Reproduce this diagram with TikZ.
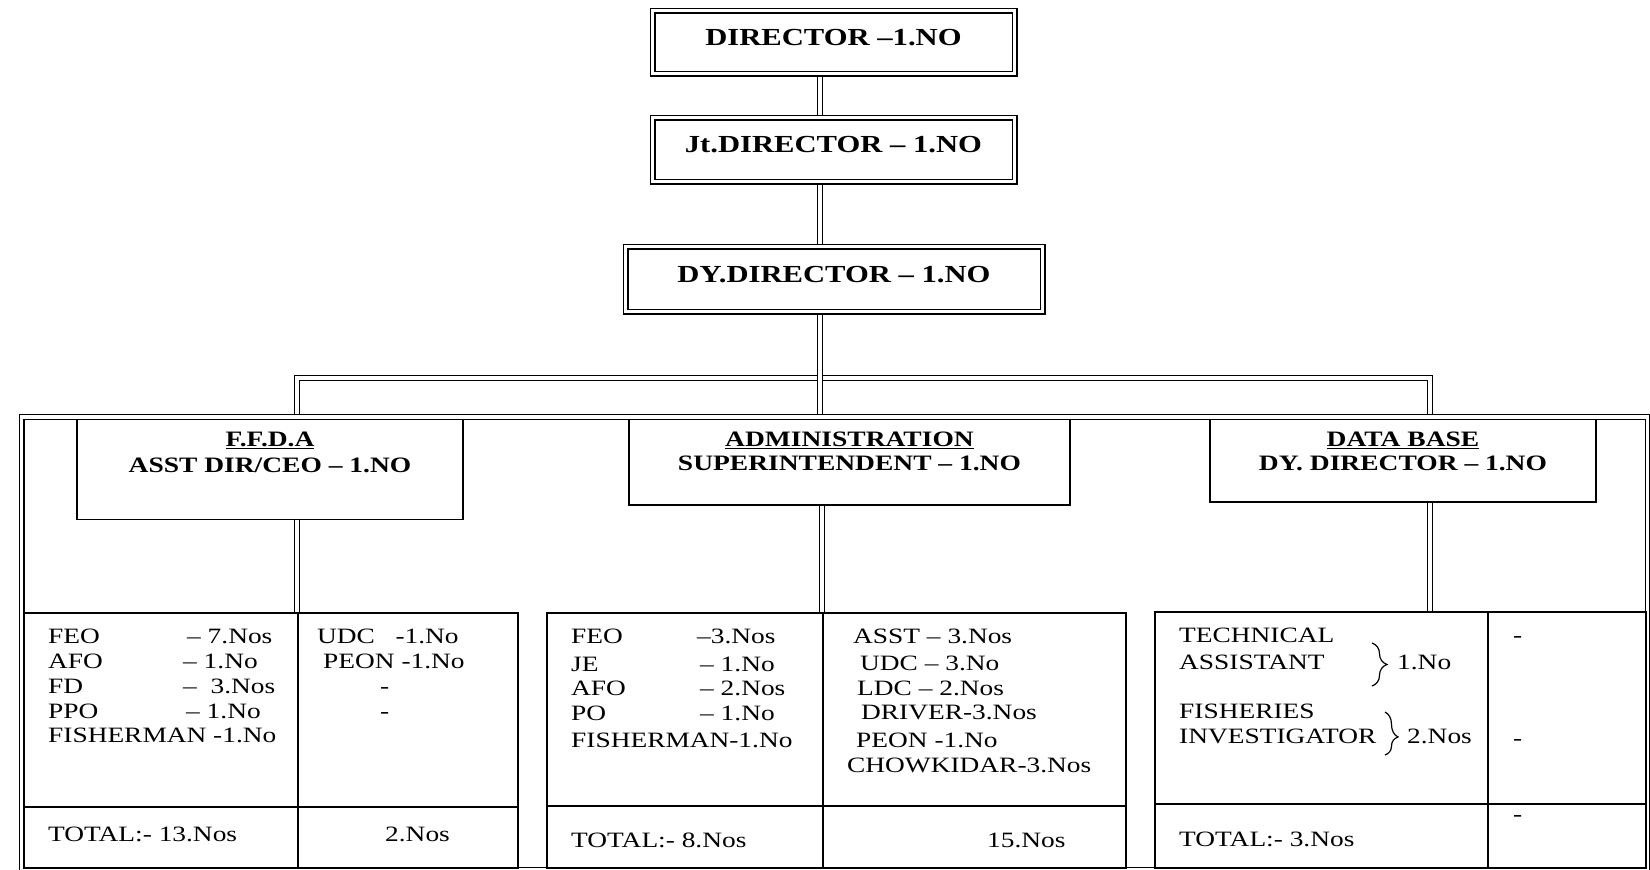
\documentclass[tikz,border=0pt]{standalone}
\usepackage{fontspec}
\setmainfont{Liberation Serif}[FakeStretch=1.25]
\usetikzlibrary{decorations.pathreplacing}
\pgfdeclarelayer{bg}
\pgfsetlayers{bg,main}

\begin{document}
\begin{tikzpicture}[x=1pt,y=-1pt,
  link/.style={draw=black, line width=1.1pt, double=white, double distance=3.2pt},
  framestyle/.style={draw=black, line width=1.2pt, double=white, double distance=3.6pt},
  topbox/.style={draw=black, line width=1.2pt, double=white, double distance=3.6pt,
    fill=white, rectangle, inner sep=0pt,
    font=\fontsize{24.5}{29}\selectfont\bfseries, text height=16pt, text depth=10pt},
  unitbox/.style={draw=black, line width=1.3pt, fill=white, rectangle, inner sep=0pt},
  unithead/.style={align=center, inner sep=0pt, anchor=north,
    font=\fontsize{22}{25.5}\selectfont\bfseries},
  unitheadtight/.style={unithead, font=\fontsize{22}{23.5}\selectfont\bfseries},
  cell/.style={inner sep=0pt, anchor=base west, font=\fontsize{21.9}{24}\selectfont},
  grid/.style={draw=black, line width=1.2pt},
  bracket/.style={draw=black, line width=1.2pt, decorate,
    decoration={brace, amplitude=15pt}},
]
\useasboundingbox (0,0) rectangle (1650,870);
\clip (0,0) rectangle (1650,870);

% ---------- top of the hierarchy ----------
\node[topbox, minimum width=362pt, minimum height=63pt] (dir) at (833.5,42) {DIRECTOR –1.NO};
\node[topbox, minimum width=362pt, minimum height=64pt] (jt) at (833.5,149.5) {Jt.DIRECTOR – 1.NO};
\node[topbox, minimum width=417pt, minimum height=65pt] (dy) at (834,279) {DY.DIRECTOR – 1.NO};

% ---------- the three units ----------
\node[unitbox, minimum width=386pt, minimum height=100pt] (ffda) at (270,469.5) {};
\node[unitbox, minimum width=441pt, minimum height=85.5pt] (admin) at (849.5,462.25) {};
\node[unitbox, minimum width=386pt, minimum height=82.5pt] (db) at (1403,460.75) {};

\node[unithead] (ffdaT) at ([yshift=-13pt]ffda.north)
  {\underline{F.F.D.A}\\ASST DIR/CEO – 1.NO};
\node[unitheadtight] (adminT) at ([yshift=-13pt]admin.north)
  {\underline{ADMINISTRATION}\\SUPERINTENDENT – 1.NO};
\node[unitheadtight] (dbT) at ([yshift=-13pt]db.north)
  {\underline{DATA BASE}\\DY. DIRECTOR – 1.NO};

% ---------- connector axes ----------
\coordinate (ax) at (820,0);
\coordinate (busL) at (297,378);
\coordinate (busR) at (1430,378);
\coordinate (ffdaTab) at (297,613);
\coordinate (adminTab) at (822,613);
\coordinate (dbTab) at (1430,612);

\begin{pgfonlayer}{bg}
  \draw[link] (dir.south -| ax) -- (jt.north -| ax);
  \draw[link] (jt.south -| ax) -- (dy.north -| ax);
  \draw[link] (ffda.north -| busL) -- (busL) -- (busR) -- (db.north -| busR);
  \draw[link] (dy.south -| ax) -- (admin.north -| ax);
  \draw[link] (ffda.south -| ffdaTab) -- (ffdaTab);
  \draw[link] (admin.south -| adminTab) -- (adminTab);
  \draw[link] (db.south -| dbTab) -- (dbTab);
  % outer double frame round the units
  \draw[framestyle] (21.5,417) rectangle (1647.5,870);
\end{pgfonlayer}

% ---------- staff tables ----------
\draw[grid] (24,613) rectangle (518,868);
\draw[grid] (298,613) -- (298,868);
\draw[grid] (24,807) -- (518,807);

\draw[grid] (547,613) rectangle (1126,868);
\draw[grid] (823,613) -- (823,868);
\draw[grid] (547,806) -- (1126,806);

\draw[grid] (1155,612) rectangle (1646,868);
\draw[grid] (1488,612) -- (1488,868);
\draw[grid] (1155,804) -- (1646,804);

% F.F.D.A staff
\node[cell] (a1) at (48,643) {FEO};
\node[cell] (a1n) at (187,643) {– 7.Nos};
\node[cell] (a2) at (48,668) {AFO};
\node[cell] (a2n) at (183,668) {– 1.No};
\node[cell] (a3) at (48,693) {FD};
\node[cell] (a3n) at (183,693) {–~~3.Nos};
\node[cell] (a4) at (48,718) {PPO};
\node[cell] (a4n) at (186,718) {– 1.No};
\node[cell] (a5) at (48,742) {FISHERMAN -1.No};
\node[cell] (b1) at (317,643) {UDC~~~-1.No};
\node[cell] (b2) at (323,668) {PEON -1.No};
\node[cell] (b3) at (380,693) {-};
\node[cell] (b4) at (380,718) {-};
\node[cell] (aT) at (48,841) {TOTAL:- 13.Nos};
\node[cell] (bT) at (385,841) {2.Nos};

% Administration staff
\node[cell] (c1) at (571,643) {FEO};
\node[cell] (c1n) at (697,643) {–3.Nos};
\node[cell] (c2) at (571,671) {JE};
\node[cell] (c2n) at (700,671) {– 1.No};
\node[cell] (c3) at (571,695) {AFO};
\node[cell] (c3n) at (700,695) {– 2.Nos};
\node[cell] (c4) at (571,720) {PO};
\node[cell] (c4n) at (700,720) {– 1.No};
\node[cell] (c5) at (571,747) {FISHERMAN-1.No};
\node[cell] (d1) at (853,643) {ASST – 3.Nos};
\node[cell] (d2) at (860,670) {UDC – 3.No};
\node[cell] (d3) at (857,695) {LDC – 2.Nos};
\node[cell] (d4) at (861,719) {DRIVER-3.Nos};
\node[cell] (d5) at (856,747) {PEON -1.No};
\node[cell] (d6) at (847,772) {CHOWKIDAR-3.Nos};
\node[cell] (cT) at (571,847) {TOTAL:- 8.Nos};
\node[cell] (dT) at (987,847) {15.Nos};

% Data base staff
\node[cell] (e1) at (1179,642) {TECHNICAL};
\node[cell] (e2) at (1179,669) {ASSISTANT};
\node[cell] (e2n) at (1397,669) {1.No};
\node[cell] (e3) at (1179,718) {FISHERIES};
\node[cell] (e4) at (1179,743) {INVESTIGATOR};
\node[cell] (e4n) at (1407,743) {2.Nos};
\node[cell] (f1) at (1513,642) {-};
\node[cell] (f2) at (1513,745) {-};
\node[cell] (f3) at (1513,821) {-};
\node[cell] (eT) at (1179,846) {TOTAL:- 3.Nos};

\coordinate (br1a) at (1372,643);
\coordinate (br1b) at (1372,686);
\coordinate (br2a) at (1385,712);
\coordinate (br2b) at (1385,755);
\draw[bracket] (br1a) -- (br1b);
\draw[bracket, decoration={brace, amplitude=13pt, aspect=0.58}] (br2a) -- (br2b);
\end{tikzpicture}
\end{document}
